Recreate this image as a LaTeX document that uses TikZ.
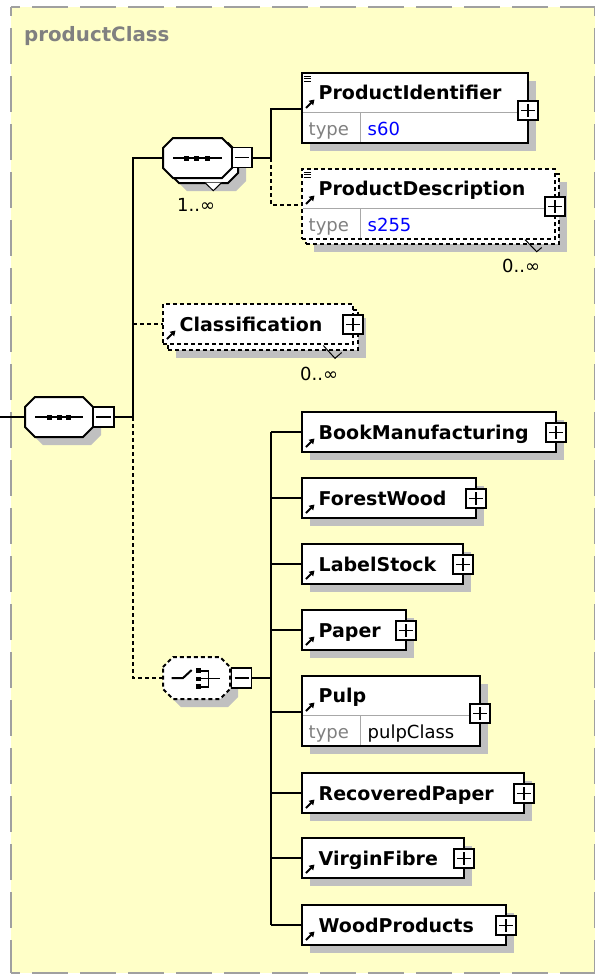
\documentclass[tikz,border=0pt]{standalone}
\usepackage{fontspec}
\setmainfont{DejaVu Sans}
\usetikzlibrary{arrows.meta}
\definecolor{bgyellow}{HTML}{FFFFC8}
\definecolor{shadowgray}{HTML}{C0C0C0}
\definecolor{framegray}{HTML}{A0A0A0}
\definecolor{titlegray}{HTML}{808080}
\definecolor{typegray}{HTML}{808080}
\definecolor{valblue}{HTML}{0000FF}
\definecolor{divgray}{HTML}{A8A8A8}
\tikzset{
  conn/.style={line width=2bp},
  dconn/.style={line width=2bp, dash pattern=on 4bp off 3bp},
  elbox/.style={draw, fill=white, line width=2bp, inner sep=0pt, outer sep=0pt},
  delbox/.style={elbox, dash pattern=on 4bp off 3bp},
  octdraw/.style={draw, fill=white, line width=2bp},
  doctdraw/.style={octdraw, dash pattern=on 4bp off 3bp},
  divline/.style={draw=divgray, line width=1bp},
  eltext/.style={font=\fontsize{19bp}{22bp}\selectfont\bfseries, inner sep=0pt, anchor=base west},
  typetext/.style={font=\fontsize{18bp}{21bp}\selectfont, inner sep=0pt, anchor=base west},
  multext/.style={font=\fontsize{18bp}{21bp}\selectfont, inner sep=0pt, anchor=base west},
  pmbox/.style={draw, fill=white, line width=1.8bp, minimum width=20bp, minimum height=19bp, inner sep=0pt, outer sep=0pt},
  plusbox/.style={pmbox, path picture={
      \draw[line width=1.6bp] ([xshift=3bp]path picture bounding box.west) -- ([xshift=-3bp]path picture bounding box.east);
      \draw[line width=1.6bp] ([yshift=-3bp]path picture bounding box.north) -- ([yshift=3bp]path picture bounding box.south);}},
  minusbox/.style={pmbox, minimum height=20bp, path picture={
      \draw[line width=1.6bp] ([xshift=3bp]path picture bounding box.west) -- ([xshift=-3bp]path picture bounding box.east);}},
  framedash/.style={draw=framegray, line width=2bp, dash pattern=on 36bp off 12bp, dash phase=26.7bp},
}
% shadow rectangle: left, top, right, height
\newcommand\xshadow[4]{\fill[shadowgray] (#1+8,#2+8) rectangle (#3+8,#2+#4+8);}
% octagon: name, x1, y1, x2, y2, style
\newcommand\xoct[6]{%
  \node[inner sep=0pt, outer sep=0pt, minimum width={(#4-#2)*1bp}, minimum height={(#5-#3)*1bp}] (#1) at ({(#2+#4)/2},{(#3+#5)/2}) {};
  \path[#6] (#2,#3+10) -- (#2+10,#3) -- (#4-10,#3) -- (#4,#3+10) -- (#4,#5-10) -- (#4-10,#5) -- (#2+10,#5) -- (#2,#5-10) -- cycle;}
\newcommand\xoctshadow[4]{%
  \fill[shadowgray] (#1+8,#2+18) -- (#1+18,#2+8) -- (#3-2,#2+8) -- (#3+8,#2+18) -- (#3+8,#4-2) -- (#3-2,#4+8) -- (#1+18,#4+8) -- (#1+8,#4-2) -- cycle;}
\newcommand\xrefarrow[2]{\draw[line width=1.9bp, -{Triangle[length=5bp,width=6bp]}] (#1+4,#2+35) -- (#1+12.5,#2+26.5);}
\newcommand\xsimpletype[2]{\foreach \k in {3,5.8,8.6} \draw[line width=1bp] (#1+1.8,#2+\k) -- (#1+9,#2+\k);}
% box node: name, left, top, right, height, style
\newcommand\xbox[6]{\node[#6, minimum width={(#4-#2)*1bp}, minimum height=#5bp, anchor=north west] (#1) at (#2,#3) {};}
% simple element: name, left, top, right, text, style
\newcommand\xsimple[6]{%
  \xbox{#1}{#2}{#3}{#4}{40}{#6}
  \node[eltext] (#1-t) at (#2+16.5,#3+27) {#5};
  \xrefarrow{#2}{#3}
  \node[plusbox] (#1-p) at (#4,#3+20.5) {};
  \coordinate (#1-in) at (#2,#3+20);}
% typed element: name, left, top, right, text, style, value, value colour
\newcommand\xtyped[8]{%
  \xbox{#1}{#2}{#3}{#4}{70}{#6}
  \draw[divline] (#2+1,#3+39.5) -- (#4-1,#3+39.5);
  \draw[divline] (#2+58.5,#3+39.5) -- (#2+58.5,#3+69);
  \node[eltext] (#1-t) at (#2+16.5,#3+26.5) {#5};
  \node[typetext, text=typegray] (#1-k) at (#2+6.5,#3+62) {type};
  \node[typetext, text=#8] (#1-v) at (#2+65.5,#3+62) {#7};
  \xrefarrow{#2}{#3}
  \node[plusbox] (#1-p) at (#4,#3+37.5) {};
  \coordinate (#1-in) at (#2,#3+36);}
\begin{document}
\begin{tikzpicture}[x=1bp, y=-1bp]
\useasboundingbox (0,0) rectangle (595,976);
\fill[white] (0,0) rectangle (595,976);
% frame
\fill[bgyellow] (11,7) rectangle (594.5,973);
\draw[framedash] (11,7) -- (594.5,7);
\draw[framedash] (11,7) -- (11,973);
\draw[framedash] (11,973) -- (594.5,973);
\draw[framedash] (594.5,7) -- (594.5,973);
\node[font=\fontsize{19.8bp}{22bp}\selectfont\bfseries, text=titlegray, anchor=base west, inner sep=0pt] (title) at (24,41.7) {productClass};

% shadows
\xoctshadow{25}{397}{93}{437}
\xoctshadow{169}{143}{238}{183}
\xoctshadow{163}{657}{230}{699}
\xshadow{302}{73}{528}{70}
\xshadow{306}{174}{559}{70}
\xshadow{168}{310}{358}{40}
\xshadow{302}{412}{556}{40}
\xshadow{302}{478}{476}{40}
\xshadow{302}{544}{463}{40}
\xshadow{302}{610}{406}{40}
\xshadow{302}{676}{480}{70}
\xshadow{302}{773}{524}{40}
\xshadow{302}{838}{464}{40}
\xshadow{302}{905}{506}{40}

% root sequence
\xoct{root}{25}{397}{93}{437}{octdraw}
\draw[line width=2bp] (35,417) -- (83,417);
\foreach \sx in {49.3,59,68.8} \fill (\sx-2.5,414.5) rectangle (\sx+2.5,419.5);
\node[minusbox, minimum width=21bp] (root-m) at (103.5,417) {};

% top sequence (1..inf)
\xoct{seq-back}{169}{143}{238}{183}{octdraw}
\draw[line width=1bp, fill=white] (205,182.7) -- (213.3,190.7) -- (221.5,182.7);
\xoct{seq}{163}{138}{232}{178}{octdraw}
\draw[line width=2bp] (173,158) -- (222,158);
\foreach \sx in {186,196.6,207.2} \fill (\sx-2.5,155.5) rectangle (\sx+2.5,160.5);
\node[minusbox] (seq-m) at (242,157.5) {};
\node[multext] (seq-mult) at (177,211.7) {1..∞};

% choice
\xoct{cho}{163}{657}{230}{699}{doctdraw}
\draw[line width=2bp] (171.7,678) -- (183,678) -- (191.7,670);
\foreach \sy in {670.8,678.9,686.8} \fill (195.8,\sy-2.4) rectangle (200.6,\sy+2.4);
\draw[line width=1.5bp] (200.4,670.8) -- (208.3,670.8) -- (208.3,686.8) -- (200.4,686.8);
\draw[line width=1.5bp] (200.4,678.6) -- (220,678.6);
\node[minusbox] (cho-m) at (241.5,678) {};

% ProductIdentifier
\xtyped{pid}{302}{73}{528}{ProductIdentifier}{elbox}{s60}{valblue}
\xsimpletype{302}{73}

% ProductDescription (0..inf)
\xbox{pdesc-back}{306}{174}{559}{70}{delbox}
\draw[line width=1bp] (525,239.6) -- (536.7,251.7) -- (541.7,247.5);
\xtyped{pdesc}{302}{169}{555}{ProductDescription}{delbox}{s255}{valblue}
\xsimpletype{302}{169}
\node[multext] (pdesc-mult) at (502,272.3) {0..∞};

% Classification (0..inf)
\xbox{cls-back}{168}{310}{358}{40}{delbox}
\draw[line width=1bp] (323.3,345.5) -- (335,358.3) -- (341.7,352.5);
\xsimple{cls}{163}{304}{353}{Classification}{delbox}
\node[multext] (cls-mult) at (300,380) {0..∞};

% choice members
\xsimple{bm}{302}{412}{556}{BookManufacturing}{elbox}
\xsimple{fw}{302}{478}{476}{ForestWood}{elbox}
\xsimple{ls}{302}{544}{463}{LabelStock}{elbox}
\xsimple{pa}{302}{610}{406}{Paper}{elbox}
\xtyped{pu}{302}{676}{480}{Pulp}{elbox}{pulpClass}{black}
\xsimple{rp}{302}{773}{524}{RecoveredPaper}{elbox}
\xsimple{vf}{302}{838}{464}{VirginFibre}{elbox}
\xsimple{wp}{302}{905}{506}{WoodProducts}{elbox}

% connectors
\coordinate (start) at (0,417);
\coordinate (J1) at (133,417);
\coordinate (J2) at (271,158);
\coordinate (J3) at (271,678);
\draw[conn] (start) -- (root.west);
\draw[conn] (root-m.east) -- (J1);
\draw[conn] (J1) |- (seq.west);
\draw[conn] (seq-m.east |- J2) -- (J2);
\draw[conn] (J2) |- (pid-in);
\draw[dconn] (J2) |- (pdesc-in);
\draw[dconn] (J1 |- cls-in) -- (cls-in);
\draw[dconn] (J1) |- (cho.west);
\draw[conn] (cho-m.east) -- (J3);
\draw[conn] (J3 |- bm-in) -- (J3 |- wp-in);
\foreach \n in {bm,fw,ls,pa,pu,rp,vf,wp} \draw[conn] (J3 |- \n-in) -- (\n-in);
\end{tikzpicture}
\end{document}
